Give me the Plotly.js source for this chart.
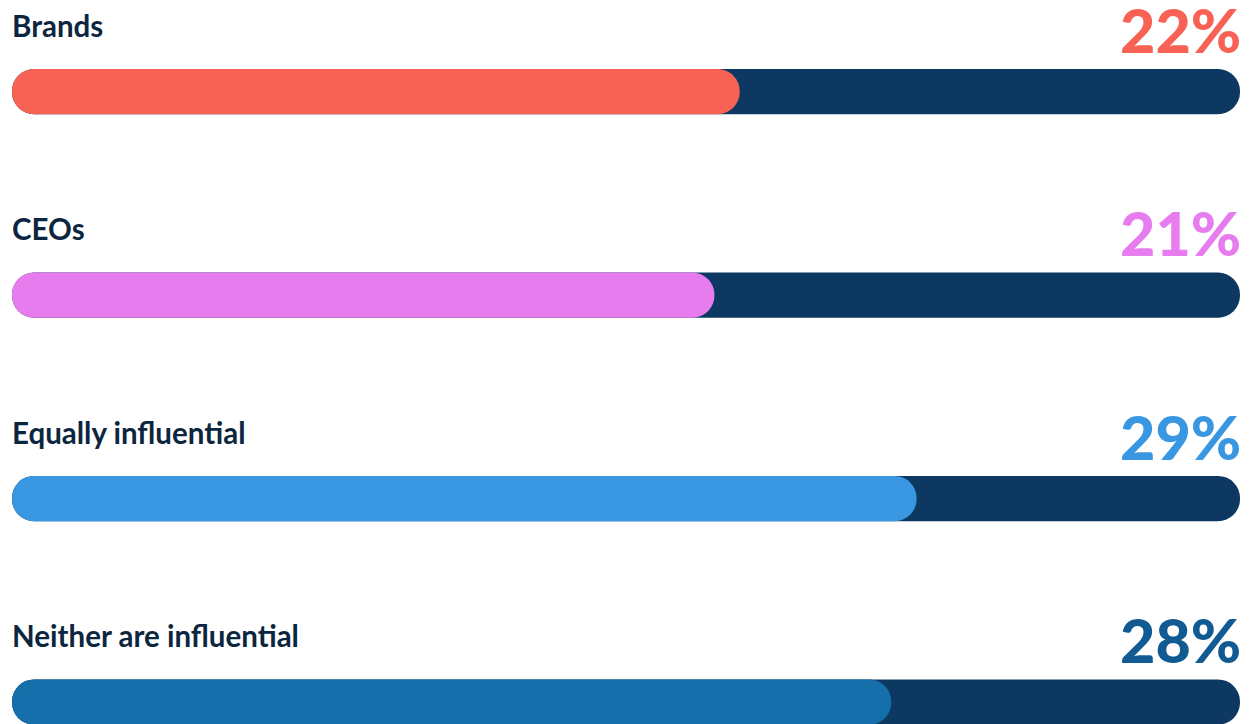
<!DOCTYPE html>
<html>
<head>
<meta charset="utf-8">
<script src="https://cdn.plot.ly/plotly-3.0.1.min.js"></script>
<style>
  html, body { margin: 0; padding: 0; background: #ffffff; }
  #chart { width: 1252px; height: 724px; }
</style>
</head>
<body>
<div id="chart"></div>
<script>
// data
var categories = ["Brands", "CEOs", "Equally influential", "Neither are influential"]
var values = [22, 21, 29, 28]
var valueLabels = ["22%", "21%", "29%", "28%"]

// colours
var fillColors = ["#f86254", "#e77cee", "#3997e1", "#146fab"]
var textColors = ["#f86254", "#e77cee", "#3997e1", "#125b92"]
var trackColor = "#0c3861"
var labelColor = "#0d2640"

// the fill bars in the original don't start at zero, so the axis starts a bit below
var axisMin = -6.8
var axisMax = 41.8

var track = {
    type: "bar",
    orientation: "h",
    y: categories,
    x: categories.map(function () { return axisMax - axisMin }),
    base: axisMin,
    width: 0.222,
    marker: {color: trackColor, cornerradius: 23},
    hoverinfo: "skip"
}

var fill = {
    type: "bar",
    orientation: "h",
    y: categories,
    x: values.map(function (v) { return v - axisMin }),
    base: axisMin,
    width: 0.222,
    marker: {color: fillColors, cornerradius: 23},
    hoverinfo: "skip"
}

var annotations = []
for (let i = 0; i < categories.length; i++) {
    // category label, top left of the bar
    annotations.push({
        xref: "paper", yref: "y",
        x: 0, y: i - 0.325,
        xanchor: "left", yanchor: "middle",
        xshift: -2,
        text: categories[i],
        showarrow: false,
        font: {family: "Lato, 'Open Sans', sans-serif", size: 29.5, weight: 700, color: labelColor}
    })
    // big percentage, top right
    annotations.push({
        xref: "paper", yref: "y",
        x: 1, y: i - 0.305,
        xanchor: "right", yanchor: "middle",
        xshift: 3,
        text: valueLabels[i],
        showarrow: false,
        font: {family: "Lato, 'Open Sans', sans-serif", size: 61, weight: 900, color: textColors[i]}
    })
}

var layout = {
    width: 1252,
    height: 724,
    margin: {l: 12, r: 12, t: 0, b: 0, pad: 0},
    paper_bgcolor: "#ffffff",
    plot_bgcolor: "#ffffff",
    barmode: "overlay",
    showlegend: false,
    xaxis: {range: [axisMin, axisMax], visible: false, fixedrange: true},
    yaxis: {type: "category", range: [3.108, -0.45], visible: false, fixedrange: true},
    annotations: annotations
}

Plotly.newPlot("chart", [track, fill], layout, {displayModeBar: false, staticPlot: true})
</script>
</body>
</html>
